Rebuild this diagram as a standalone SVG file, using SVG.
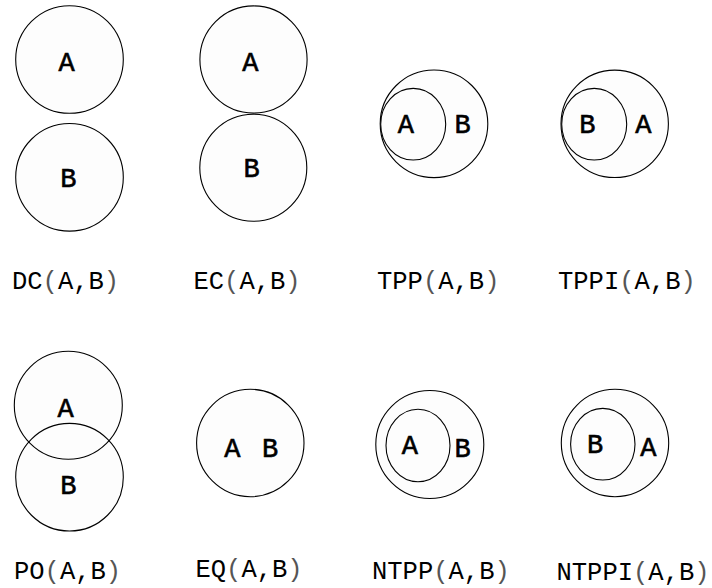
<svg xmlns="http://www.w3.org/2000/svg" width="712" height="588" viewBox="0 0 712 588">
<style>
.c{fill:#fdfdfd;stroke:#000;stroke-width:1.1}
.o{fill:none;stroke:#000;stroke-width:1.1}
.f{fill:#fdfdfd;stroke:none}
.n{font-family:"Liberation Mono","Courier New",monospace;font-size:27px;fill:#000;stroke:#000;stroke-width:0.6;text-anchor:middle}
.l{font-family:"Liberation Mono","Courier New",monospace;font-size:25.5px;fill:#000}
.p{fill:#555}
</style>
<rect width="712" height="588" fill="#fff"/>
<g id="dc">
<circle class="c" cx="69.5" cy="59.5" r="53.8"/>
<circle class="c" cx="69.5" cy="177.3" r="53.8"/>
<text class="n" x="66.7" y="71">A</text>
<text class="n" x="68.3" y="187">B</text>
<text class="l" x="12" y="289">DC<tspan class="p">(</tspan>A,B<tspan class="p">)</tspan></text>
</g>
<g id="ec">
<circle class="c" cx="253.5" cy="59.5" r="53.6"/>
<circle class="c" cx="253.3" cy="167.7" r="53.5"/>
<text class="n" x="250.3" y="71">A</text>
<text class="n" x="251.5" y="177">B</text>
<text class="l" x="193.5" y="289">EC<tspan class="p">(</tspan>A,B<tspan class="p">)</tspan></text>
</g>
<g id="tpp">
<circle class="c" cx="434" cy="123.8" r="53.8"/>
<ellipse class="c" cx="413.2" cy="124.2" rx="32.5" ry="35.8"/>
<text class="n" x="405.8" y="133">A</text>
<text class="n" x="462.7" y="133">B</text>
<text class="l" x="377" y="289">TPP<tspan class="p">(</tspan>A,B<tspan class="p">)</tspan></text>
</g>
<g id="tppi">
<circle class="c" cx="614.7" cy="123.8" r="53.7"/>
<ellipse class="c" cx="594.2" cy="124.2" rx="32.5" ry="35.8"/>
<text class="n" x="587.3" y="133">B</text>
<text class="n" x="643.3" y="133">A</text>
<text class="l" x="558" y="289">TPPI<tspan class="p">(</tspan>A,B<tspan class="p">)</tspan></text>
</g>
<g id="po">
<circle class="f" cx="68.3" cy="405.3" r="54"/>
<circle class="f" cx="69.5" cy="477.2" r="53.8"/>
<circle class="o" cx="68.3" cy="405.3" r="54"/>
<circle class="o" cx="69.5" cy="477.2" r="53.8"/>
<text class="n" x="65.5" y="416.7">A</text>
<text class="n" x="68.3" y="494.3">B</text>
<text class="l" x="14" y="579">PO<tspan class="p">(</tspan>A,B<tspan class="p">)</tspan></text>
</g>
<g id="eq">
<circle class="c" cx="250.3" cy="443" r="53.7"/>
<text class="n" x="232.3" y="456.7">A</text>
<text class="n" x="270" y="456.7">B</text>
<text class="l" x="195.5" y="577">EQ<tspan class="p">(</tspan>A,B<tspan class="p">)</tspan></text>
</g>
<g id="ntpp">
<circle class="c" cx="429.8" cy="444.5" r="54"/>
<ellipse class="c" cx="418" cy="445.5" rx="32" ry="36.2"/>
<text class="n" x="409.8" y="454.3">A</text>
<text class="n" x="462.7" y="457.3">B</text>
<text class="l" x="372" y="578.5">NTPP<tspan class="p">(</tspan>A,B<tspan class="p">)</tspan></text>
</g>
<g id="ntppi">
<circle class="c" cx="615" cy="443" r="53.7"/>
<ellipse class="c" cx="602.8" cy="444.2" rx="32.2" ry="35.8"/>
<text class="n" x="595" y="452.7">B</text>
<text class="n" x="648.3" y="456">A</text>
<text class="l" x="556.5" y="579.5">NTPPI<tspan class="p">(</tspan>A,B<tspan class="p">)</tspan></text>
</g>
<g id="connectors"/>
</svg>
